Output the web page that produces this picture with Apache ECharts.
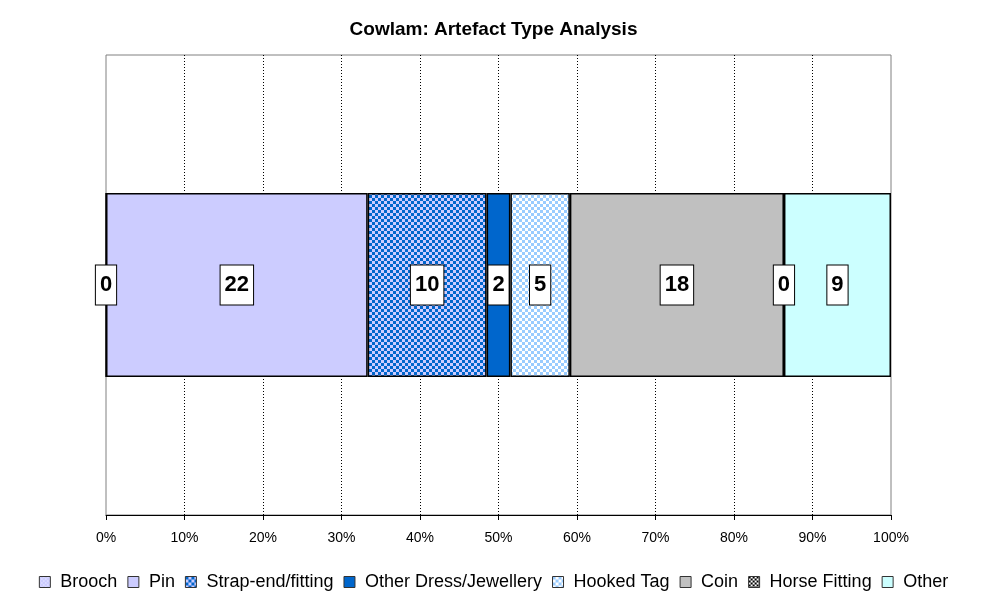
<!DOCTYPE html>
<html>
<head>
<meta charset="utf-8">
<title>Cowlam: Artefact Type Analysis</title>
<script src="https://cdn.jsdelivr.net/npm/echarts@6/dist/echarts.min.js"></script>
<style>
  html, body { margin: 0; padding: 0; background: #ffffff; }
  #chart { width: 987px; height: 606px; }
</style>
</head>
<body>
<div id="chart"></div>
<script>
// data
const categories = ['Cowlam'];
const seriesNames = ['Brooch', 'Pin', 'Strap-end/fitting', 'Other Dress/Jewellery', 'Hooked Tag', 'Coin', 'Horse Fitting', 'Other'];
const counts = [0, 22, 10, 2, 5, 18, 0, 9];
const tickLabels = [0, 10, 20, 30, 40, 50, 60, 70, 80, 90, 100];

const FONT = 'Arial, "Liberation Sans", sans-serif';

// little checker tiles like the old excel fills
function checker(bg, fg, cell) {
  const c = document.createElement('canvas');
  c.width = cell * 2;
  c.height = cell * 2;
  const ctx = c.getContext('2d');
  ctx.fillStyle = bg;
  ctx.fillRect(0, 0, c.width, c.height);
  ctx.fillStyle = fg;
  ctx.fillRect(0, 0, cell, cell);
  ctx.fillRect(cell, cell, cell, cell);
  return { image: c, repeat: 'repeat' };
}
function dots(bg, fg) {
  const c = document.createElement('canvas');
  c.width = 4;
  c.height = 4;
  const ctx = c.getContext('2d');
  ctx.fillStyle = bg;
  ctx.fillRect(0, 0, 4, 4);
  ctx.fillStyle = fg;
  ctx.fillRect(0, 0, 1, 1);
  ctx.fillRect(2, 2, 1, 1);
  return { image: c, repeat: 'repeat' };
}

const fills = [
  dots('#CCCCFF', '#FFFFFF'),
  '#CCCCFF',
  checker('#CCCCFF', '#0066CC', 3),
  '#0066CC',
  checker('#FFFFFF', '#99CCFF', 3),
  '#C0C0C0',
  checker('#FFFFFF', '#000000', 2),
  '#CCFFFF'
];

const total = counts.reduce((a, b) => a + b, 0);

const myChart = echarts.init(document.getElementById('chart'));

const series = seriesNames.map((name, i) => ({
  type: 'bar',
  name: name,
  stack: 'all',
  barWidth: 184,
  data: [counts[i] / total * 100],
  itemStyle: {
    color: fills[i],
    borderColor: '#000000',
    borderWidth: 1.5
  },
  label: {
    show: true,
    position: 'inside',
    formatter: () => String(counts[i]),
    color: '#000000',
    fontFamily: FONT,
    fontWeight: 'bold',
    fontSize: 22,
    lineHeight: 22,
    backgroundColor: '#FFFFFF',
    borderColor: '#000000',
    borderWidth: 1,
    padding: [9, 4, 8, 4]
  },
  emphasis: { disabled: true }
}));

const option = {
  animation: false,
  backgroundColor: '#FFFFFF',
  title: {
    text: 'Cowlam: Artefact Type Analysis',
    left: 'center',
    top: 15,
    textStyle: {
      fontFamily: FONT,
      fontWeight: 'bold',
      fontSize: 19,
      color: '#000000'
    }
  },
  grid: {
    left: 106,
    right: 96,
    top: 55,
    bottom: 91,
    show: true,
    borderColor: '#808080',
    borderWidth: 1
  },
  legend: {
    bottom: 10,
    left: 'center',
    icon: 'rect',
    itemWidth: 11,
    itemHeight: 11,
    itemGap: 10,
    selectedMode: false,
    formatter: (name) => ' ' + name,
    itemStyle: { borderColor: '#333333', borderWidth: 1 },
    textStyle: {
      fontFamily: FONT,
      fontSize: 18,
      color: '#000000'
    }
  },
  xAxis: {
    type: 'value',
    min: 0,
    max: 100,
    interval: 10,
    axisLine: { show: true, lineStyle: { color: '#000000', width: 1 } },
    axisTick: { show: true, length: 5, lineStyle: { color: '#000000' } },
    axisLabel: {
      formatter: (v) => tickLabels.includes(v) ? v + '%' : '',
      fontFamily: FONT,
      fontSize: 14,
      color: '#000000',
      margin: 16
    },
    splitLine: {
      show: true,
      showMinLine: false,
      showMaxLine: false,
      lineStyle: { color: '#000000', type: [1, 2], width: 1 }
    }
  },
  yAxis: {
    type: 'category',
    data: categories,
    axisLine: { show: false },
    axisTick: { show: false },
    axisLabel: { show: false }
  },
  series: series
};

myChart.setOption(option);
</script>
</body>
</html>
